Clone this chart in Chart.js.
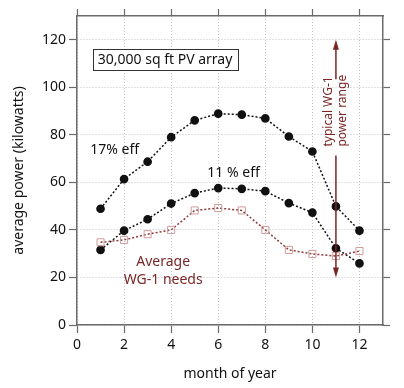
<!DOCTYPE html>
<html>
<head>
<meta charset="utf-8">
<script src="https://cdn.jsdelivr.net/npm/chart.js@4.4.1/dist/chart.umd.min.js"></script>
<style>
  html, body { margin: 0; padding: 0; background: #fff; }
  #wrap { width: 404px; height: 388px; }
</style>
</head>
<body>
<div id="wrap"><canvas id="c" width="404" height="388"></canvas></div>
<script>
// monthly values
const months = [1, 2, 3, 4, 5, 6, 7, 8, 9, 10, 11, 12];
const eff17 = [48.9, 61.4, 68.7, 79.0, 86.1, 88.9, 88.5, 86.9, 79.3, 73.0, 49.9, 39.7];
const eff11 = [31.6, 39.7, 44.5, 51.1, 55.5, 57.6, 57.3, 56.3, 51.3, 47.3, 32.3, 25.9];
const needs = [34.8, 35.8, 38.2, 40.0, 48.2, 49.2, 48.2, 40.0, 31.6, 29.9, 29.0, 31.1];

// axis ticks
const xTicks = [0, 2, 4, 6, 8, 10, 12];
const yTicks = [0, 20, 40, 60, 80, 100, 120];

// power range arrow (x, bottom, top) and gap left for its label
const rangeX = 11;
const rangeLow = 20;
const rangeHigh = 120;
const rangeGap = [71.3, 103.4];

const FONT = '"Noto Sans", sans-serif';
const INK = '#111';
const RED = '#7a2626';
const FRAME = '#6b6b6b';

const pts = (ys) => months.map((m, i) => ({ x: m, y: ys[i] }));

const notes = {
  id: 'notes',
  afterDatasetsDraw(chart) {
    const { ctx } = chart;
    const xs = chart.scales.x, ys = chart.scales.y;
    const px = (v) => xs.getPixelForValue(v);
    const py = (v) => ys.getPixelForValue(v);
    ctx.save();

    // boxed title
    ctx.font = '14px ' + FONT;
    ctx.textAlign = 'center';
    ctx.textBaseline = 'middle';
    const bx = px(3.74), by = py(111.6);
    const w = ctx.measureText('30,000 sq ft PV array').width;
    ctx.fillStyle = '#fff';
    ctx.fillRect(bx - w / 2 - 5, by - 10.5, w + 10, 21);
    ctx.strokeStyle = '#333';
    ctx.lineWidth = 1;
    ctx.strokeRect(Math.round(bx - w / 2 - 5) + 0.5, Math.round(by - 10.5) + 0.5, Math.round(w + 10), 21);
    ctx.fillStyle = INK;
    ctx.fillText('30,000 sq ft PV array', bx, by);

    // series labels
    ctx.font = '14px ' + FONT;
    ctx.fillText('17% eff', px(1.6), py(73.8));
    ctx.fillText('11 % eff', px(6.65), py(64.1));
    ctx.fillStyle = RED;
    ctx.fillText('Average', px(3.66), py(26.6));
    ctx.fillText('WG-1 needs', px(3.66), py(18.9));

    // range arrow
    const ax = px(rangeX);
    ctx.strokeStyle = RED;
    ctx.fillStyle = RED;
    ctx.lineWidth = 1.5;
    ctx.beginPath();
    ctx.moveTo(ax, py(rangeHigh) + 6);
    ctx.lineTo(ax, py(rangeGap[1]));
    ctx.moveTo(ax, py(rangeGap[0]));
    ctx.lineTo(ax, py(rangeLow) - 6);
    ctx.stroke();
    const head = (y, dir) => {
      ctx.beginPath();
      ctx.moveTo(ax, y);
      ctx.lineTo(ax - 3, y - dir * 10);
      ctx.lineTo(ax + 3, y - dir * 10);
      ctx.closePath();
      ctx.fill();
    };
    head(py(rangeHigh), -1);
    head(py(rangeLow), 1);

    // rotated label of the arrow, starting just above the lower segment
    ctx.save();
    ctx.translate(ax, py(rangeGap[0]) - 9);
    ctx.rotate(-Math.PI / 2);
    ctx.textAlign = 'left';
    ctx.font = '12px ' + FONT;
    ctx.fillText('typical WG-1', 0, -7);
    ctx.fillText('power range', 0, 7);
    ctx.restore();

    ctx.restore();
  },
};

const tickFont = { family: FONT, size: 14 };
const useTicks = (vals) => (s) => { s.ticks = vals.map((v) => ({ value: v })); };

new Chart(document.getElementById('c'), {
  type: 'line',
  data: {
    datasets: [
      {
        label: 'needs', data: pts(needs),
        borderColor: '#8a3a3a', borderWidth: 1.5, borderDash: [2, 2],
        pointStyle: 'rect', pointRadius: 5, pointBorderWidth: 1,
        pointBorderColor: '#d29a9a', pointBackgroundColor: 'rgba(255,255,255,0)',
      },
      {
        label: '11%', data: pts(eff11),
        borderColor: INK, borderWidth: 1.5, borderDash: [2, 2],
        pointRadius: 3.6, pointBackgroundColor: INK, pointBorderColor: INK,
      },
      {
        label: '17%', data: pts(eff17),
        borderColor: INK, borderWidth: 1.5, borderDash: [2, 2],
        pointRadius: 3.6, pointBackgroundColor: INK, pointBorderColor: INK,
      },
    ],
  },
  options: {
    responsive: false,
    animation: false,
    layout: { padding: 0 },
    plugins: { legend: { display: false }, tooltip: { enabled: false } },
    scales: {
      x: {
        type: 'linear', position: 'bottom', min: 0, max: 13,
        afterBuildTicks: useTicks(xTicks),
        afterFit: (s) => { s.height = 63; },
        ticks: { color: INK, font: tickFont, padding: 4, maxRotation: 0, autoSkip: false },
        grid: { color: '#c2c2c2', tickColor: FRAME, tickLength: 8, tickWidth: 1.2 },
        border: { color: FRAME, width: 1.5, dash: [1, 2] },
        title: { display: true, text: 'month of year', color: INK, font: { family: FONT, size: 14 }, padding: { top: 0, bottom: 6 } },
      },
      x2: {
        type: 'linear', position: 'top', min: 0, max: 13,
        afterBuildTicks: useTicks(xTicks),
        afterFit: (s) => { s.height = 16; },
        ticks: { display: false, autoSkip: false },
        grid: { drawOnChartArea: false, tickColor: FRAME, tickLength: 7, tickWidth: 1.2 },
        border: { color: FRAME, width: 1.5 },
      },
      y: {
        type: 'linear', position: 'left', min: 0, max: 130,
        afterBuildTicks: useTicks(yTicks),
        afterFit: (s) => { s.width = 77; },
        ticks: { color: INK, font: tickFont, padding: 3, autoSkip: false },
        grid: { color: '#c2c2c2', tickColor: FRAME, tickLength: 8, tickWidth: 1.2 },
        border: { color: FRAME, width: 1.5, dash: [1, 2] },
        title: { display: true, text: 'average power (kilowatts)', color: INK, font: { family: FONT, size: 14 }, padding: { top: 11, bottom: 0 } },
      },
      y2: {
        type: 'linear', position: 'right', min: 0, max: 130,
        afterBuildTicks: useTicks(yTicks),
        afterFit: (s) => { s.width = 21; },
        ticks: { display: false, autoSkip: false },
        grid: { drawOnChartArea: false, tickColor: FRAME, tickLength: 7, tickWidth: 1.2 },
        border: { color: FRAME, width: 1.5 },
      },
    },
  },
  plugins: [notes],
});
</script>
</body>
</html>
